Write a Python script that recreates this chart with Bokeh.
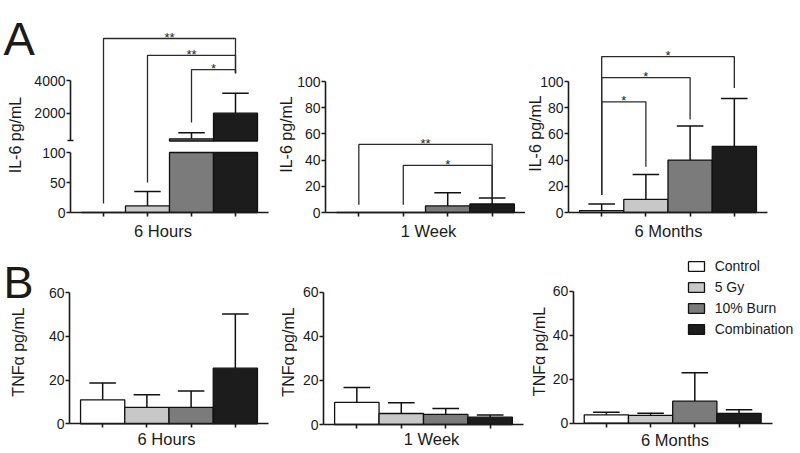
import math
from bokeh.plotting import figure
from bokeh.layouts import row, column
from bokeh.models import Range1d, LinearAxis, FixedTicker, Label, Legend, LegendItem
from bokeh.embed import file_html
from bokeh.resources import INLINE
from bokeh.core.properties import value

# ---------------- data ----------------
groups = ["Control", "5 Gy", "10% Burn", "Combination"]
colors = ["#ffffff", "#c8c8c8", "#7b7b7b", "#1c1c1c"]
timepoints = ["6 Hours", "1 Week", "6 Months"]
il6_title = "IL-6 pg/mL"
tnf_title = "TNFα pg/mL"

# IL-6 (pg/mL): mean and upper SD
il6_6h_mean = [0, 11, 430, 2000]
il6_6h_err = [0, 24, 370, 1220]
il6_1w_mean = [0, 0, 5, 6.5]
il6_1w_err = [0, 0, 10, 4.5]
il6_6m_mean = [1.5, 10, 40, 50.5]
il6_6m_err = [5, 19, 26, 36.5]

# TNF-alpha (pg/mL)
tnf_6h_mean = [11, 7.5, 7.5, 25.5]
tnf_6h_err = [7.7, 5.8, 7.5, 24.8]
tnf_1w_mean = [10, 5, 4.6, 3.3]
tnf_1w_err = [6.8, 4.9, 2.6, 1.0]
tnf_6m_mean = [3.8, 3.6, 10, 4.5]
tnf_6m_err = [1.2, 0.9, 12.9, 1.6]

# axis ticks
il6_6h_lower_ticks = [0, 50, 100]
il6_6h_upper_ticks = [2000, 4000]
il6_6h_break = [300]
il6_ticks = [0, 20, 40, 60, 80, 100]
tnf_ticks = [0, 20, 40, 60]

# significance brackets (group from, group to, bar height, left foot, right foot, label)
sig_6h_from = [0, 1, 2]
sig_6h_to = [3, 3, 3]
sig_6h_y = [290, 262, 238]
sig_6h_left = [15, 50, 150]
sig_6h_right = [232, 232, 232]
sig_6h_text = ["**", "**", "*"]

sig_1w_from = [0, 1]
sig_1w_to = [3, 3]
sig_1w_y = [52, 36]
sig_1w_left = [6, 6]
sig_1w_right = [10, 10]
sig_1w_text = ["**", "*"]

sig_6m_from = [0, 0, 0]
sig_6m_to = [3, 2, 1]
sig_6m_y = [119, 103, 84.5]
sig_6m_left = [13.5, 13.5, 13.5]
sig_6m_right = [95, 71, 35]
sig_6m_text = ["*", "*", "*"]

# ---------------- helpers ----------------
FONT = "Liberation Sans"
INK = "#1a1a1a"
XB = (-0.75, 3.75)          # x-axis extent around the 4 bars
BREAK_LO, BREAK_HI = 100, 300


def lin(v0, p0, v1, p1):
    """pixel -> value mapping given two reference ticks"""
    k = (v1 - v0) / (p0 - p1)
    return lambda pix: v0 + (p0 - pix) * k


def style_axis(ax):
    ax.axis_line_width = 1.6
    ax.axis_line_color = INK
    ax.major_tick_line_width = 1.6
    ax.major_tick_line_color = INK
    ax.minor_tick_line_color = None
    ax.major_tick_in = 0
    ax.major_tick_out = 4
    ax.major_label_standoff = 1
    ax.major_label_text_font = FONT
    ax.major_label_text_font_size = "14px"
    ax.major_label_text_color = INK


class Panel:
    def __init__(self, region, frame_x, yticks_px):
        rx0, rx1, ry0, ry1 = region
        fx0, fx1 = frame_x
        k = (fx1 - fx0) / (XB[1] - XB[0])
        self.X = lambda pix: XB[0] + (pix - fx0) / k
        self.Y = lin(*yticks_px)
        self.p = figure(width=rx1 - rx0, height=ry1 - ry0, min_border=0,
                        x_range=Range1d(self.X(rx0), self.X(rx1)),
                        y_range=Range1d(self.Y(ry1), self.Y(ry0)),
                        output_backend="svg", toolbar_location=None)
        p = self.p
        p.outline_line_color = None
        p.xgrid.visible = False
        p.ygrid.visible = False
        xa = p.xaxis[0]
        style_axis(xa)
        xa.fixed_location = 0
        xa.bounds = XB
        xa.ticker = FixedTicker(ticks=list(range(len(groups))))
        xa.major_label_text_color = None
        ya = p.yaxis[0]
        style_axis(ya)
        ya.fixed_location = XB[0]

    def text(self, x, y, txt, size, angle=0.0, align="center", baseline="middle"):
        self.p.add_layout(Label(x=self.X(x), y=self.Y(y), text=txt, angle=angle,
                                text_font=FONT, text_font_size=size, text_color=INK,
                                text_align=align, text_baseline=baseline))


def draw_bars(p, means, clip=None, bottom=0, yname="default", only=None):
    rs = []
    for i, g in enumerate(groups):
        if only is not None and i not in only:
            continue
        t = means[i] if clip is None else min(means[i], clip)
        r = p.vbar(x=[i], width=1.0, bottom=[bottom], top=[t], fill_color=colors[i],
                   line_color="#111111", line_width=1.3, y_range_name=yname)
        rs.append(r)
    return rs


def draw_errors(p, idx, means, errs, yname="default"):
    xs = [i for i in idx if errs[i] > 0]
    if not xs:
        return
    m = [means[i] for i in xs]
    tips = [means[i] + errs[i] for i in xs]
    p.segment(x0=xs, y0=m, x1=xs, y1=tips, line_color="#111111", line_width=1.5,
              y_range_name=yname)
    p.segment(x0=[x - 0.3 for x in xs], y0=tips, x1=[x + 0.3 for x in xs], y1=tips,
              line_color="#111111", line_width=1.5, y_range_name=yname)


def draw_sig(p, f, t, y, left, right, text):
    xs = [[a, a, b, b] for a, b in zip(f, t)]
    ys = [[l, h, h, r] for l, h, r in zip(left, y, right)]
    p.multi_line(xs=xs, ys=ys, line_color="#2b2b2b", line_width=1.3)
    p.text(x=[(a + b) / 2 for a, b in zip(f, t)], y=y, text=text, text_align="center",
           text_baseline="alphabetic", text_font=value(FONT), text_font_size=value("13px"),
           text_color="#222222", y_offset=-1)


ALL = list(range(len(groups)))
VERT = math.pi / 2

# ---------------- row A: IL-6 ----------------
# A1: 6 hours, broken axis
A1 = Panel((0, 275, 0, 240), (70, 268), (0, 212, 100, 152))
p1 = A1.p
Yup = lin(2000, 112.7, 4000, 80)
p1.extra_y_ranges = {"upper": Range1d(Yup(240), Yup(0))}
ya = p1.yaxis[0]
ya.bounds = (0, BREAK_LO)
ya.ticker = FixedTicker(ticks=il6_6h_lower_ticks)
up_ax = LinearAxis(y_range_name="upper", fixed_location=XB[0], bounds=(BREAK_HI, 4000),
                   ticker=FixedTicker(ticks=il6_6h_upper_ticks))
style_axis(up_ax)
p1.add_layout(up_ax, "left")
brk_ax = LinearAxis(y_range_name="upper", fixed_location=XB[0], bounds=(BREAK_HI, BREAK_HI),
                    ticker=FixedTicker(ticks=il6_6h_break))
style_axis(brk_ax)
brk_ax.axis_line_color = None
brk_ax.major_tick_in = 3
brk_ax.major_tick_out = 3
brk_ax.major_label_text_color = None
p1.add_layout(brk_ax, "left")

draw_bars(p1, il6_6h_mean, clip=BREAK_LO)
hi_bars = [i for i in ALL if il6_6h_mean[i] > BREAK_HI]
draw_bars(p1, il6_6h_mean, bottom=BREAK_HI, yname="upper", only=hi_bars)
lo_err = [i for i in ALL if il6_6h_mean[i] + il6_6h_err[i] <= BREAK_HI]
hi_err = [i for i in ALL if il6_6h_mean[i] + il6_6h_err[i] > BREAK_HI]
draw_errors(p1, lo_err, il6_6h_mean, il6_6h_err)
draw_errors(p1, hi_err, il6_6h_mean, il6_6h_err, "upper")
draw_sig(p1, sig_6h_from, sig_6h_to, sig_6h_y, sig_6h_left, sig_6h_right, sig_6h_text)
A1.text(3, 38, "A", "47px", align="left", baseline="alphabetic")
A1.text(14.5, 134.5, il6_title, "16px", angle=VERT)
A1.text(162.5, 230.5, timepoints[0], "16.5px")

# A2: 1 week
A2 = Panel((275, 525, 0, 240), (325, 525), (0, 212, 100, 81))
p2 = A2.p
p2.yaxis[0].bounds = (0, 100)
p2.yaxis[0].ticker = FixedTicker(ticks=il6_ticks)
draw_bars(p2, il6_1w_mean)
draw_errors(p2, ALL, il6_1w_mean, il6_1w_err)
draw_sig(p2, sig_1w_from, sig_1w_to, sig_1w_y, sig_1w_left, sig_1w_right, sig_1w_text)
A2.text(286, 134, il6_title, "16px", angle=VERT)
A2.text(428, 230.5, timepoints[1], "16.5px")

# A3: 6 months
A3 = Panel((525, 800, 0, 240), (568, 767), (0, 212, 100, 81))
p3 = A3.p
p3.yaxis[0].bounds = (0, 100)
p3.yaxis[0].ticker = FixedTicker(ticks=il6_ticks)
draw_bars(p3, il6_6m_mean)
draw_errors(p3, ALL, il6_6m_mean, il6_6m_err)
draw_sig(p3, sig_6m_from, sig_6m_to, sig_6m_y, sig_6m_left, sig_6m_right, sig_6m_text)
A3.text(534.5, 133, il6_title, "16px", angle=VERT)
A3.text(668, 230.5, timepoints[2], "16.5px")

# ---------------- row B: TNF-alpha ----------------
B1 = Panel((0, 275, 240, 453), (69, 268), (0, 423.3, 60, 292.3))
q1 = B1.p
q1.yaxis[0].bounds = (0, 60)
q1.yaxis[0].ticker = FixedTicker(ticks=tnf_ticks)
draw_bars(q1, tnf_6h_mean)
draw_errors(q1, ALL, tnf_6h_mean, tnf_6h_err)
B1.text(3, 281.7, "B", "45px", align="left", baseline="alphabetic")
B1.text(17.5, 351.5, tnf_title, "16px", angle=VERT)
B1.text(166, 438, timepoints[0], "16.5px")

B2 = Panel((275, 525, 240, 453), (323, 523), (0, 424, 60, 291.7))
q2 = B2.p
q2.yaxis[0].bounds = (0, 60)
q2.yaxis[0].ticker = FixedTicker(ticks=tnf_ticks)
draw_bars(q2, tnf_1w_mean)
draw_errors(q2, ALL, tnf_1w_mean, tnf_1w_err)
B2.text(287.5, 351.5, tnf_title, "16px", angle=VERT)
B2.text(431, 438, timepoints[1], "16.5px")

B3 = Panel((525, 800, 240, 453), (572.7, 771.7), (0, 422.7, 60, 290.7))
q3 = B3.p
q3.yaxis[0].bounds = (0, 60)
q3.yaxis[0].ticker = FixedTicker(ticks=tnf_ticks)
rs = draw_bars(q3, tnf_6m_mean)
draw_errors(q3, ALL, tnf_6m_mean, tnf_6m_err)
B3.text(539, 351, tnf_title, "16px", angle=VERT)
B3.text(674.5, 439, timepoints[2], "16.5px")

# legend (screen position from the frame's bottom-left corner)
item_h = 15.6
leg_h = 4 * item_h + 3 * 5
leg_top = 261.7 - (item_h - 12) / 2
legend = Legend(items=[LegendItem(label=g, renderers=[r]) for g, r in zip(groups, rs)],
                location=(685.7 - 525, (453 - leg_top) - leg_h),
                glyph_width=20, glyph_height=12, label_height=12,
                spacing=5, label_standoff=9, padding=0, margin=0,
                border_line_color=None, background_fill_alpha=0,
                label_text_font=FONT, label_text_font_size="14px",
                label_text_color=INK)
q3.add_layout(legend)

layout = column(row(p1, p2, p3), row(q1, q2, q3))
open("out.html", "w").write(file_html(layout, INLINE))
